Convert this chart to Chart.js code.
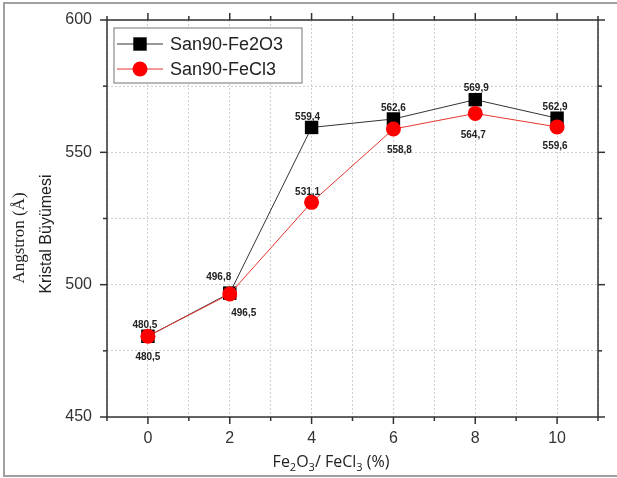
<!DOCTYPE html>
<html>
<head>
<meta charset="utf-8">
<script src="https://cdn.jsdelivr.net/npm/chart.js@4.4.0/dist/chart.umd.min.js"></script>
<style>
html, body { margin: 0; padding: 0; background: #fff; }
#wrap { width: 617px; height: 478px; position: relative; }
</style>
</head>
<body>
<div id="wrap"><canvas id="kristalChart"></canvas></div>
<script>
// veri
const katkiOrani = [0, 2, 4, 6, 8, 10];
const fe2o3Data = [480.5, 496.8, 559.4, 562.6, 569.9, 562.9];
const fecl3Data = [480.5, 496.5, 531.1, 558.8, 564.7, 559.6];
const seriesNames = ['San90-Fe2O3', 'San90-FeCl3'];
const xTickLabels = [0, 2, 4, 6, 8, 10];
const yTickLabels = [450, 500, 550, 600];

const SANS = '"Liberation Sans", Arial, sans-serif';

// etiket kaydirmalari (piksel), her seri icin nokta basina
const labelOffsets = [
    [[-3, -11], [-11, -16], [-4, -10], [0, -11], [1, -11], [-2, -11]],
    [[0, 21], [14, 19], [-4, -10], [6, 21], [-2, 22], [-2, 19]]
];

function line(ctx, x1, y1, x2, y2) {
    ctx.beginPath();
    ctx.moveTo(x1, y1);
    ctx.lineTo(x2, y2);
    ctx.stroke();
}

const cerceve = {
    id: 'cerceve',
    beforeDraw(chart) {
        const ctx = chart.ctx;
        ctx.save();
        ctx.fillStyle = '#fff';
        ctx.fillRect(0, 0, chart.width, chart.height);
        ctx.strokeStyle = '#a0a0a0';
        ctx.lineWidth = 2;
        ctx.beginPath();
        ctx.moveTo(chart.width, 3);
        ctx.lineTo(4, 3);
        ctx.lineTo(4, 476);
        ctx.lineTo(chart.width, 476);
        ctx.stroke();
        ctx.restore();
    },
    beforeDatasetsDraw(chart) {
        const ctx = chart.ctx;
        const {left, right, top, bottom} = chart.chartArea;
        const xs = chart.scales.x, ys = chart.scales.y;
        ctx.save();
        ctx.strokeStyle = '#333';
        ctx.lineWidth = 1.5;
        ctx.strokeRect(left, top, right - left, bottom - top);
        for (let v = xs.min; v <= xs.max; v++) {
            const px = xs.getPixelForValue(v);
            const len = v % 2 === 0 ? 7 : 4;
            line(ctx, px, bottom, px, bottom + len);
            line(ctx, px, top, px, top - len);
        }
        for (let v = ys.min; v <= ys.max; v += 25) {
            const py = ys.getPixelForValue(v);
            const len = v % 50 === 0 ? 7 : 4;
            line(ctx, left, py, left - len, py);
            line(ctx, right, py, right + len, py);
        }
        ctx.restore();
    },
    afterDatasetsDraw(chart) {
        const ctx = chart.ctx;
        ctx.save();

        // deger etiketleri
        ctx.font = 'bold 10px ' + SANS;
        ctx.fillStyle = '#222';
        ctx.textAlign = 'center';
        ctx.textBaseline = 'middle';
        chart.data.datasets.forEach((ds, di) => {
            chart.getDatasetMeta(di).data.forEach((pt, i) => {
                const txt = ds.data[i].y.toFixed(1).replace('.', ',');
                const off = labelOffsets[di][i];
                ctx.fillText(txt, pt.x + off[0], pt.y + off[1]);
            });
        });

        // lejant
        ctx.fillStyle = '#fff';
        ctx.fillRect(114, 28, 188, 55);
        ctx.strokeStyle = '#8a8a8a';
        ctx.lineWidth = 1.2;
        ctx.strokeRect(114, 28, 188, 55);
        const rows = [44, 69];
        chart.data.datasets.forEach((ds, di) => {
            const y = rows[di];
            ctx.strokeStyle = ds.borderColor;
            ctx.lineWidth = 1;
            line(ctx, 117, y, 163, y);
            ctx.fillStyle = ds.pointBackgroundColor;
            if (ds.pointStyle === 'rect') {
                ctx.fillRect(140 - 6.7, y - 6.7, 13.4, 13.4);
            } else {
                ctx.beginPath();
                ctx.arc(140, y, ds.pointRadius, 0, Math.PI * 2);
                ctx.fill();
            }
            ctx.fillStyle = '#222';
            ctx.font = '18px ' + SANS;
            ctx.textAlign = 'left';
            ctx.textBaseline = 'middle';
            ctx.fillText(ds.label, 170, y + 1);
        });

        // eksen basliklari
        ctx.fillStyle = '#222';
        ctx.textAlign = 'center';
        ctx.textBaseline = 'middle';
        ctx.save();
        ctx.translate(20, 238);
        ctx.rotate(-Math.PI / 2);
        ctx.font = '17px "Liberation Serif", "Times New Roman", serif';
        ctx.fillText('Angstron (Å)', 0, 0);
        ctx.restore();
        ctx.save();
        ctx.translate(47, 234);
        ctx.rotate(-Math.PI / 2);
        ctx.font = '16px ' + SANS;
        ctx.fillText('Kristal Büyümesi', 0, 0);
        ctx.restore();

        const parts = [['Fe', 0], ['2', 1], ['O', 0], ['3', 1], ['/ FeCl', 0], ['3', 1], [' (%)', 0]];
        const bigF = '16px "Open Sans", sans-serif', smallF = '11px "Open Sans", sans-serif';
        let w = 0;
        parts.forEach(p => { ctx.font = p[1] ? smallF : bigF; w += ctx.measureText(p[0]).width; });
        let x = 331 - w / 2;
        ctx.textAlign = 'left';
        ctx.textBaseline = 'alphabetic';
        parts.forEach(p => {
            ctx.font = p[1] ? smallF : bigF;
            ctx.fillText(p[0], x, p[1] ? 471 : 467);
            x += ctx.measureText(p[0]).width;
        });
        ctx.restore();
    }
};

new Chart(document.getElementById('kristalChart'), {
    type: 'line',
    data: {
        datasets: [{
            label: seriesNames[0],
            data: katkiOrani.map((x, i) => ({x: x, y: fe2o3Data[i]})),
            borderColor: '#333',
            borderWidth: 1,
            pointStyle: 'rect',
            pointRadius: 9.5,
            pointBackgroundColor: '#000',
            pointBorderWidth: 0,
            order: 2
        }, {
            label: seriesNames[1],
            data: katkiOrani.map((x, i) => ({x: x, y: fecl3Data[i]})),
            borderColor: '#e8352e',
            borderWidth: 1,
            pointStyle: 'circle',
            pointRadius: 7.5,
            pointBackgroundColor: '#ff0000',
            pointBorderWidth: 0,
            order: 1
        }]
    },
    options: {
        responsive: true,
        maintainAspectRatio: false,
        animation: false,
        layout: {autoPadding: false, padding: {top: 20, right: 19, left: 0, bottom: 0}},
        plugins: {
            legend: {display: false},
            tooltip: {enabled: false}
        },
        scales: {
            x: {
                type: 'linear',
                min: -1,
                max: 11,
                afterFit: s => { s.height = 61; s.paddingLeft = 0; s.paddingRight = 0; },
                ticks: {
                    stepSize: 1,
                    autoSkip: false,
                    maxRotation: 0,
                    padding: 12,
                    color: '#333',
                    font: {family: SANS, size: 16},
                    callback: v => xTickLabels.includes(v) ? v : ''
                },
                grid: {color: '#cfcfcf', lineWidth: 1, drawTicks: false},
                border: {display: false, dash: [2, 2]}
            },
            y: {
                min: 450,
                max: 600,
                afterFit: s => { s.width = 107; s.paddingTop = 0; s.paddingBottom = 0; },
                ticks: {
                    stepSize: 25,
                    autoSkip: false,
                    padding: 15,
                    color: '#333',
                    font: {family: SANS, size: 16},
                    callback: v => yTickLabels.includes(v) ? v : ''
                },
                grid: {color: '#cfcfcf', lineWidth: 1, drawTicks: false},
                border: {display: false, dash: [2, 2]}
            }
        }
    },
    plugins: [cerceve]
});
</script>
</body>
</html>
